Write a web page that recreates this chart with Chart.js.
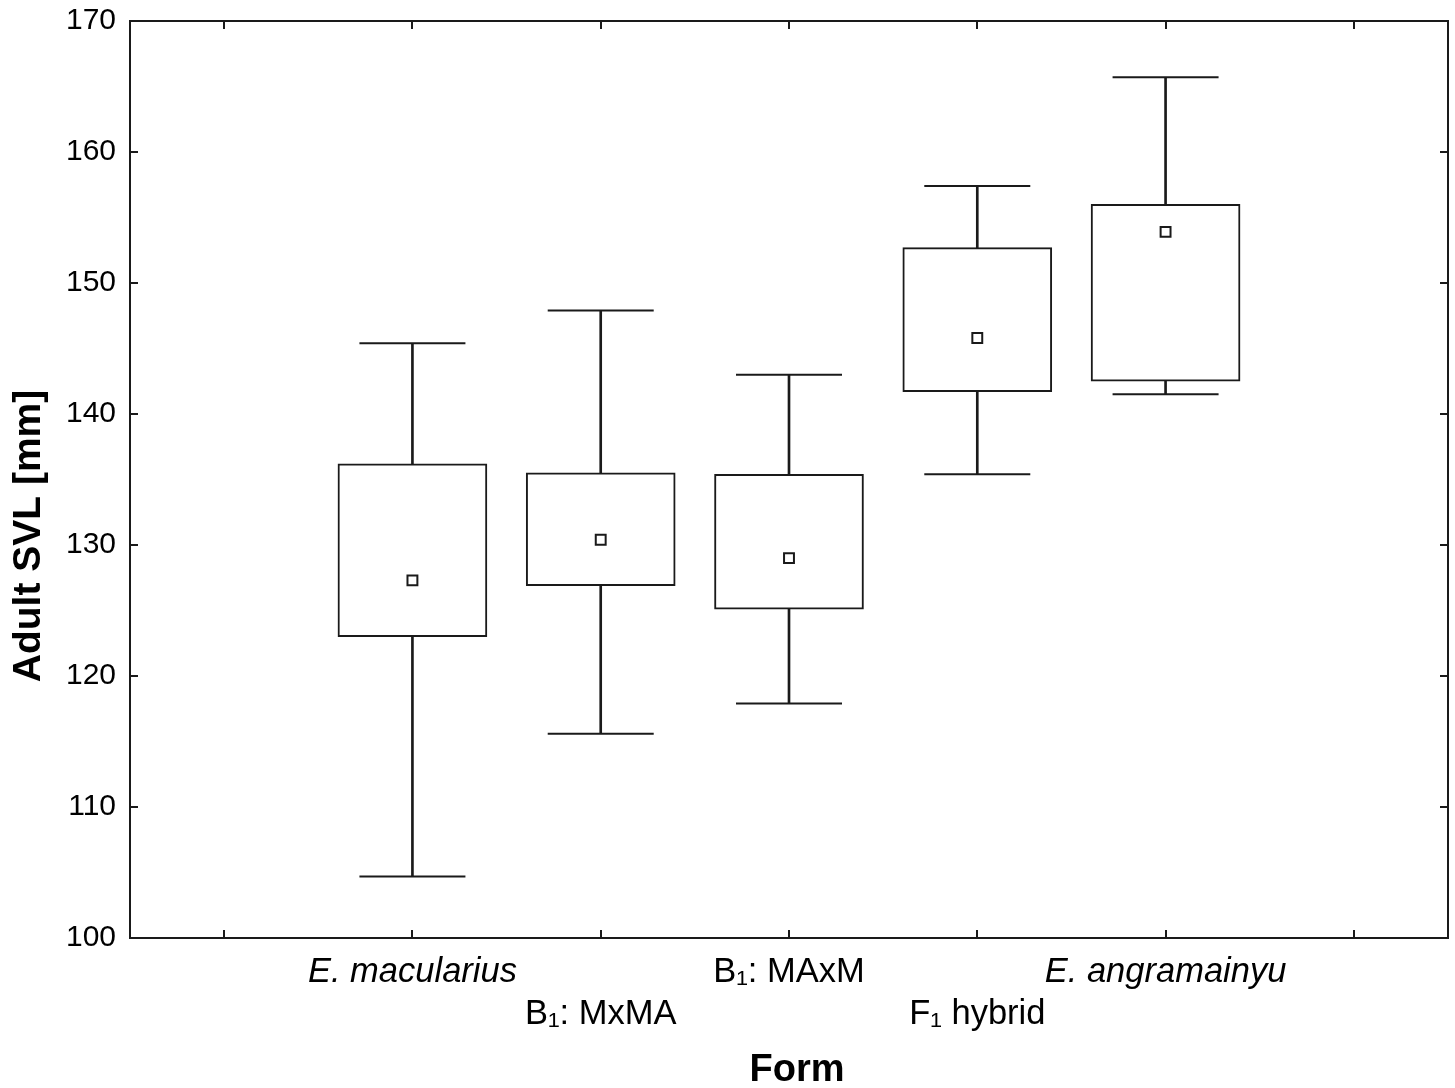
<!DOCTYPE html>
<html>
<head>
<meta charset="utf-8">
<script src="https://cdn.jsdelivr.net/npm/chart.js@4"></script>
<style>
  body { margin: 0; background: #fff; }
  canvas { display: block; }
</style>
</head>
<body>
<canvas id="box-chart" width="1455" height="1088"></canvas>
<script>
// categories (empty slot at each end, like the original axis)
const forms = ['', 'E. macularius', ['', 'B₁: MxMA'], 'B₁: MAxM', ['', 'F₁ hybrid'], 'E. angramainyu', ''];
const italicForms = [1, 5]; // species names are in italics

// values (mm)
const whiskerLow  = [null, 104.7, 115.6, 117.9, 135.4, 141.5, null];
const boxLow      = [null, 123.0, 126.9, 125.1, 141.7, 142.5, null];
const boxHigh     = [null, 136.2, 135.5, 135.4, 152.7, 156.0, null];
const whiskerHigh = [null, 145.4, 147.9, 143.0, 157.4, 165.7, null];
const means       = [null, 127.3, 130.4, 129.0, 145.8, 153.9, null];

const yTicks = [100, 110, 120, 130, 140, 150, 160, 170];

const ink = '#1a1a1a';
const font = '"Liberation Sans", Arial, sans-serif';

// frame with inward tick marks on all four sides + axis titles
const framePlugin = {
  id: 'frame',
  afterDraw(chart) {
    const ctx = chart.ctx;
    const a = chart.chartArea;
    const x = chart.scales.x, y = chart.scales.y;
    const tick = 8;
    ctx.save();
    ctx.strokeStyle = ink;
    ctx.lineWidth = 2;
    ctx.strokeRect(a.left, a.top, a.right - a.left, a.bottom - a.top);
    ctx.beginPath();
    y.ticks.forEach((t, i) => {
      const py = Math.round(y.getPixelForTick(i));
      ctx.moveTo(a.left, py); ctx.lineTo(a.left + tick, py);
      ctx.moveTo(a.right, py); ctx.lineTo(a.right - tick, py);
    });
    x.ticks.forEach((t, i) => {
      const px = Math.round(x.getPixelForTick(i));
      ctx.moveTo(px, a.bottom); ctx.lineTo(px, a.bottom - tick);
      ctx.moveTo(px, a.top); ctx.lineTo(px, a.top + tick);
    });
    ctx.stroke();

    ctx.fillStyle = '#000';
    ctx.font = 'bold 38px ' + font;
    ctx.textAlign = 'center';
    ctx.textBaseline = 'middle';
    ctx.fillText('Form', 797, 1071);
    ctx.translate(29, 536);
    ctx.rotate(-Math.PI / 2);
    ctx.font = 'bold 39px ' + font;
    ctx.fillText('Adult SVL [mm]', 0, 0);
    ctx.restore();
  }
};

const data = {
  labels: forms,
  datasets: [
    {
      // whisker stem
      type: 'bar',
      data: whiskerLow.map((v, i) => v == null ? null : [v, whiskerHigh[i]]),
      backgroundColor: ink,
      barThickness: 2,
      grouped: false,
      order: 4
    },
    {
      // box
      type: 'bar',
      data: boxLow.map((v, i) => v == null ? null : [v, boxHigh[i]]),
      backgroundColor: '#fff',
      borderColor: ink,
      borderWidth: 2,
      borderSkipped: false,
      barThickness: 149,
      grouped: false,
      order: 3
    },
    {
      // lower caps
      type: 'line',
      data: whiskerLow,
      showLine: false,
      pointStyle: 'line',
      pointRadius: 53,
      pointBorderWidth: 2,
      borderColor: ink,
      order: 2
    },
    {
      // upper caps
      type: 'line',
      data: whiskerHigh,
      showLine: false,
      pointStyle: 'line',
      pointRadius: 53,
      pointBorderWidth: 2,
      borderColor: ink,
      order: 2
    },
    {
      // mean marker
      type: 'line',
      data: means,
      showLine: false,
      pointStyle: 'rect',
      pointRadius: 7,
      pointBorderWidth: 2,
      pointBackgroundColor: '#fff',
      borderColor: ink,
      order: 1
    }
  ]
};

const noPad = (scale) => {
  scale.paddingLeft = 0;
  scale.paddingRight = 0;
  scale.paddingTop = 0;
  scale.paddingBottom = 0;
};

const config = {
  type: 'bar',
  data: data,
  options: {
    responsive: false,
    animation: false,
    layout: {
      autoPadding: false,
      padding: { top: 21, right: 7, left: 0, bottom: 0 }
    },
    plugins: {
      legend: { display: false },
      tooltip: { enabled: false }
    },
    scales: {
      x: {
        offset: true,
        grid: { display: false, drawTicks: false },
        border: { display: false },
        ticks: {
          autoSkip: false,
          maxRotation: 0,
          minRotation: 0,
          padding: 13,
          color: '#000',
          font: (c) => ({
            family: font,
            size: 34.5,
            lineHeight: 42 / 34.5,
            style: italicForms.includes(c.index) ? 'italic' : 'normal'
          })
        },
        afterFit: (scale) => { scale.height = 150; noPad(scale); }
      },
      y: {
        min: 100,
        max: 170,
        afterBuildTicks: (scale) => { scale.ticks = yTicks.map(v => ({ value: v })); },
        grid: { display: false, drawTicks: false },
        border: { display: false },
        ticks: {
          padding: 14,
          color: '#000',
          font: { family: font, size: 30 }
        },
        afterFit: (scale) => { scale.width = 130; noPad(scale); }
      }
    }
  },
  plugins: [framePlugin]
};

const boxChart = new Chart(document.getElementById('box-chart').getContext('2d'), config);
</script>
</body>
</html>
